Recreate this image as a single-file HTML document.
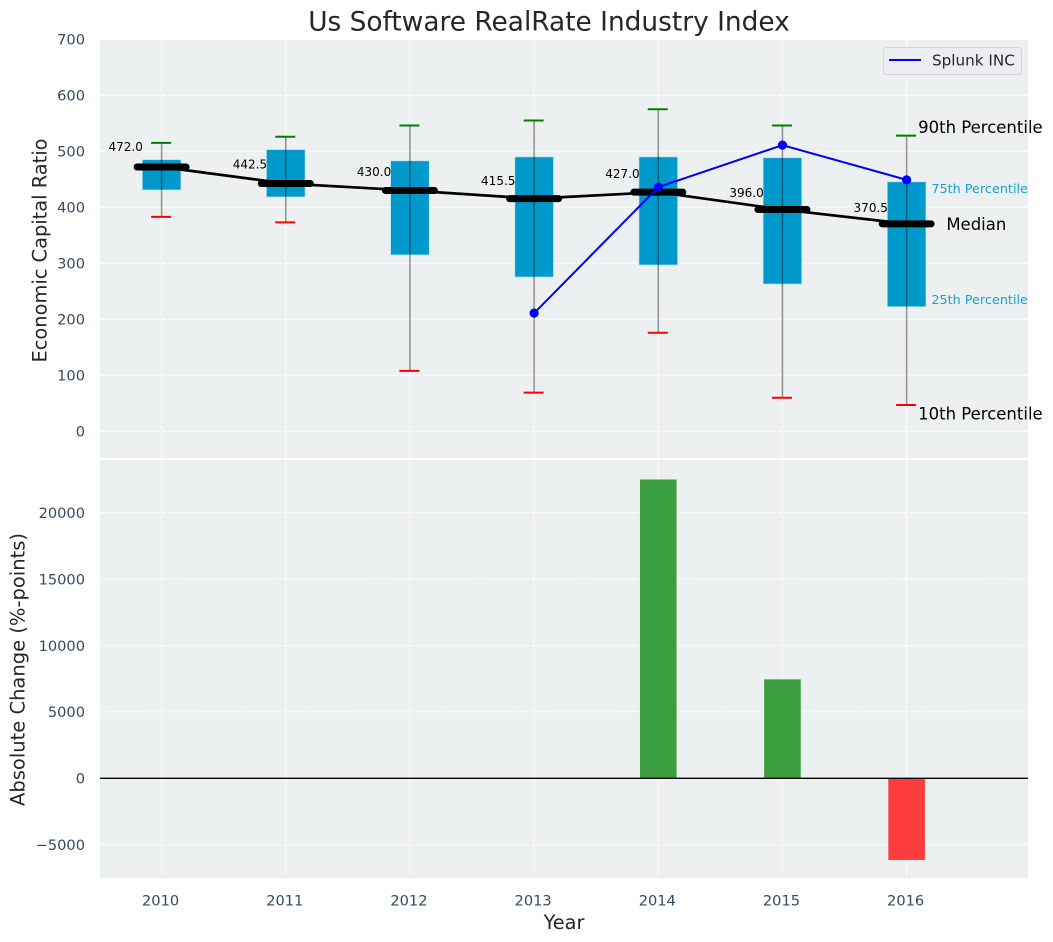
<!DOCTYPE html>
<html>
<head>
<meta charset="utf-8">
<title>Us Software RealRate Industry Index</title>
<style>
html,body{margin:0;padding:0;background:#fff;width:1053px;height:942px;overflow:hidden}
svg{display:block}
text{font-family:"DejaVu Sans","Liberation Sans",sans-serif}
</style>
</head>
<body>
<svg id="chart" width="1053" height="942" viewBox="0 0 1053 942" xmlns="http://www.w3.org/2000/svg"></svg>
<script>
const years = [2010, 2011, 2012, 2013, 2014, 2015, 2016];
const p90 = [515, 526, 546, 555, 575, 546, 528];
const p75 = [485, 503, 483, 490, 490, 488.5, 445.5];
const medians = [472.0, 442.5, 430.0, 415.5, 427.0, 396.0, 370.5];
const p25 = [431, 418.5, 315, 275.5, 297, 263, 222.5];
const p10 = [383, 373, 108, 69, 176, 60, 47];
const splunkYears = [2013, 2014, 2015, 2016];
const splunkValues = [211, 436, 511, 449];
const changeYears = [2014, 2015, 2016];
const changeValues = [22500, 7450, -6150];
const upperTicks = [0, 100, 200, 300, 400, 500, 600, 700];
const lowerTicks = [-5000, 0, 5000, 10000, 15000, 20000];

const NS = 'http://www.w3.org/2000/svg';
const svg = document.getElementById('chart');
const xScale = v => 161.6 + (v - 2010) * 124.17;
const yUpper = v => 431.3 - v * 0.56;
const yLower = v => 778.3 - v * 0.01328;

function make(tag, attrs, text) {
  const node = document.createElementNS(NS, tag);
  for (const k in attrs) node.setAttribute(k, attrs[k]);
  if (text !== undefined) node.textContent = text;
  svg.appendChild(node);
  return node;
}
let el;

// Axes backgrounds
el = make('rect', {x: 100, y: 40, width: 928, height: 418, fill: '#ecf0f1'});


el = make('rect', {x: 100, y: 460, width: 928, height: 418, fill: '#ecf0f1'});



// Grid
const gridStyle = {stroke: '#fff', 'stroke-width': 1, 'stroke-dasharray': '5.5 2.2', opacity: 0.9};
years.forEach(yr => {
  el = make('line', Object.assign({x1: xScale(yr), x2: xScale(yr), y1: 40, y2: 458}, gridStyle));
  
  
  el = make('line', Object.assign({x1: xScale(yr), x2: xScale(yr), y1: 460, y2: 878}, gridStyle));
  
  
  el = make('text', {x: xScale(yr) - 1, y: 905.5, 'font-size': 14.6, fill: '#34495e', 'text-anchor': 'middle'}, String(yr));
  
  
});
upperTicks.forEach(t => {
  el = make('line', Object.assign({x1: 100, x2: 1028, y1: yUpper(t), y2: yUpper(t)}, gridStyle));
  
  
  el = make('text', {x: 85, y: yUpper(t) + 5.3, 'font-size': 14.6, fill: '#34495e', 'text-anchor': 'end'}, String(t));
  
  
});
lowerTicks.forEach(t => {
  el = make('line', Object.assign({x1: 100, x2: 1028, y1: yLower(t), y2: yLower(t)}, gridStyle));
  
  
  el = make('text', {x: 85, y: yLower(t) + 5.3, 'font-size': 14.6, fill: '#34495e', 'text-anchor': 'end'}, String(t).replace('-', '\u2212'));
  
  
});

// Interquartile boxes
years.forEach((yr, i) => {
  el = make('rect', {x: xScale(yr) - 19.3, y: yUpper(p75[i]), width: 38.6, height: yUpper(p25[i]) - yUpper(p75[i]), fill: '#0099cc', stroke: '#b8dfea', 'stroke-width': 0.7});
  
  
});

// Median connecting line
el = make('polyline', {points: years.map((yr, i) => xScale(yr) + ',' + yUpper(medians[i])).join(' '), fill: 'none', stroke: '#000', 'stroke-width': 2.7});



// Whiskers, caps, medians, value labels
years.forEach((yr, i) => {
  const cx = xScale(yr);
  el = make('line', {x1: cx, x2: cx, y1: yUpper(p90[i]), y2: yUpper(p10[i]), stroke: '#000', 'stroke-opacity': 0.42, 'stroke-width': 1.5});
  
  
  el = make('line', {x1: cx - 10.5, x2: cx + 9.5, y1: yUpper(p90[i]), y2: yUpper(p90[i]), stroke: '#008000', 'stroke-width': 2});
  
  
  el = make('line', {x1: cx - 10.5, x2: cx + 9.5, y1: yUpper(p10[i]), y2: yUpper(p10[i]), stroke: '#ff0000', 'stroke-width': 2});
  
  
  el = make('line', {x1: cx - 24.5, x2: cx + 24.5, y1: yUpper(medians[i]), y2: yUpper(medians[i]), stroke: '#000', 'stroke-width': 7, 'stroke-linecap': 'round'});
  
  
  el = make('text', {x: cx - 18.7, y: yUpper(medians[i] * 1.08) + 5, 'font-size': 12, fill: '#000', 'text-anchor': 'end'}, medians[i].toFixed(1));
  
  
});

// Splunk series
el = make('polyline', {points: splunkYears.map((yr, i) => xScale(yr) + ',' + yUpper(splunkValues[i])).join(' '), fill: 'none', stroke: '#0000ff', 'stroke-width': 2});


splunkYears.forEach((yr, i) => {
  el = make('circle', {cx: xScale(yr), cy: yUpper(splunkValues[i]), r: 4.6, fill: '#0000ff'});
  
  
});

// Percentile annotations (anchored to the last year)
const lastI = years.length - 1;
const lastX = xScale(years[lastI]);
el = make('text', {x: lastX + 11.5, y: yUpper(p90[lastI]) - 2.7, 'font-size': 16.5, fill: '#000'}, '90th Percentile');


el = make('text', {x: lastX + 24.7, y: yUpper(p75[lastI]) + 11.3, 'font-size': 12.8, fill: '#0099cc', 'fill-opacity': 0.9}, '75th Percentile');


el = make('text', {x: lastX + 39.7, y: yUpper(medians[lastI]) + 6, 'font-size': 16.5, fill: '#000'}, 'Median');


el = make('text', {x: lastX + 24.7, y: yUpper(p25[lastI]) - 2.5, 'font-size': 12.8, fill: '#0099cc', 'fill-opacity': 0.9}, '25th Percentile');


el = make('text', {x: lastX + 11.5, y: yUpper(p10[lastI]) + 14.5, 'font-size': 16.5, fill: '#000'}, '10th Percentile');



// Legend
el = make('rect', {x: 883.5, y: 47.5, width: 138, height: 27, rx: 3, fill: '#ebedf2', stroke: '#d5d7da', 'stroke-width': 1});


el = make('line', {x1: 889, x2: 921, y1: 60, y2: 60, stroke: '#0000ff', 'stroke-width': 2});


el = make('text', {x: 932, y: 65.5, 'font-size': 15.2, fill: '#262626'}, 'Splunk INC');



// Change bars
changeYears.forEach((yr, i) => {
  const v = changeValues[i];
  const top = Math.min(yLower(v), yLower(0));
  el = make('rect', {x: xScale(yr) - 18.3, y: top, width: 36.6, height: Math.abs(yLower(v) - yLower(0)), fill: v >= 0 ? '#3a9d3e' : '#ff3d3e'});
  
  
});
el = make('line', {x1: 100, x2: 1028, y1: yLower(0), y2: yLower(0), stroke: '#000', 'stroke-width': 1.4});



// Titles
el = make('text', {x: 549, y: 30.5, 'font-size': 26.4, fill: '#262626', 'text-anchor': 'middle'}, 'Us Software RealRate Industry Index');


el = make('text', {x: 564, y: 929, 'font-size': 19.3, fill: '#262626', 'text-anchor': 'middle'}, 'Year');


el = make('text', {x: 0, y: 0, 'font-size': 19.4, fill: '#262626', 'text-anchor': 'middle', transform: 'translate(46.5,250.5) rotate(-90)'}, 'Economic Capital Ratio');


el = make('text', {x: 0, y: 0, 'font-size': 19.5, fill: '#262626', 'text-anchor': 'middle', transform: 'translate(24.5,669.5) rotate(-90)'}, 'Absolute Change (%-points)');


</script>
</body>
</html>
